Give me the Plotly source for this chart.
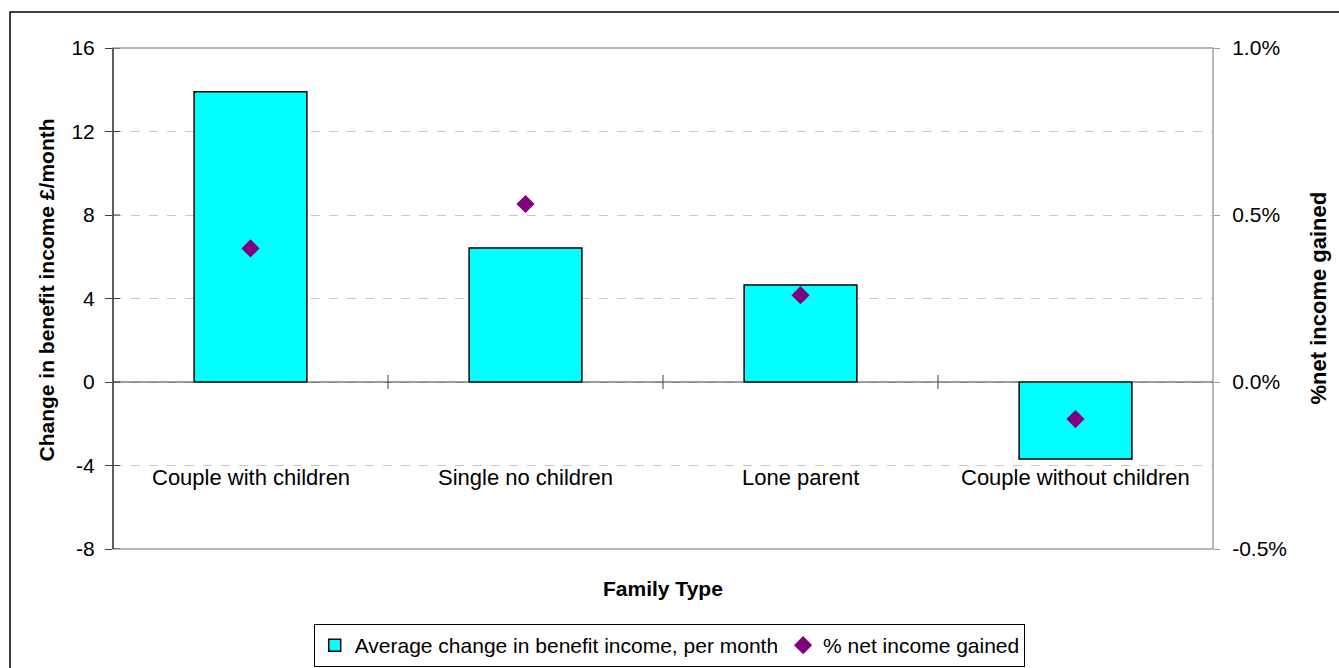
import plotly.graph_objects as go

# Family types and the two measured series
family_types = ["Couple with children", "Single no children", "Lone parent", "Couple without children"]
avg_change_per_month = [13.9, 6.42, 4.65, -3.69]      # £ per month (left axis)
pct_net_income_gained = [0.0040, 0.00533, 0.0026, -0.00111]  # share of net income (right axis)

left_ticks = [-8, -4, 0, 4, 8, 12, 16]
left_tick_text = ["-8", "-4", "0", "4", "8", "12", "16"]
right_ticks = [-0.005, 0.0, 0.005, 0.010]
right_tick_text = ["-0.5%", "0.0%", "0.5%", "1.0%"]

FONT = "Liberation Sans, Arial, sans-serif"
x_idx = list(range(len(family_types)))

fig = go.Figure()
fig.add_trace(go.Bar(
    x=x_idx, y=avg_change_per_month,
    name="Average change in benefit income, per month",
    marker=dict(color="#00FFFF", line=dict(color="#000000", width=1.5)),
    width=0.41, yaxis="y",
))
fig.add_trace(go.Scatter(
    x=x_idx, y=pct_net_income_gained,
    name="% net income gained", mode="markers",
    marker=dict(symbol="diamond", size=14, color="#800080"),
    yaxis="y2",
))

shapes = [
    # outer chart border
    dict(type="rect", xref="paper", yref="paper", x0=-0.0936, x1=1.2, y0=-0.4, y1=1.0719,
         line=dict(color="#000000", width=1.5), layer="below"),
    # plot area frame
    dict(type="rect", xref="paper", yref="paper", x0=0, x1=1, y0=0, y1=1,
         line=dict(color="#a0a0a0", width=1.5), layer="above"),
    # category axis at zero
    dict(type="line", xref="paper", yref="y", x0=0, x1=1, y0=0, y1=0,
         line=dict(color="#404040", width=1.2), layer="above"),
    # left value axis line
    dict(type="line", xref="paper", yref="paper", x0=0, x1=0, y0=0, y1=1,
         line=dict(color="#404040", width=1.5), layer="above"),
]
# tick marks between categories on the zero axis
for b in [0.5, 1.5, 2.5]:
    shapes.append(dict(type="line", xref="x", yref="y", x0=b, x1=b,
                       ysizemode="pixel", yanchor=0, y0=-7, y1=7,
                       line=dict(color="#404040", width=1)))
# inner half of the crossing ticks on the left axis
for t in left_ticks:
    shapes.append(dict(type="line", yref="y", xref="paper", xsizemode="pixel", xanchor=0,
                       x0=0, x1=7, y0=t, y1=t, line=dict(color="#404040", width=1)))

annotations = []
for i, name in enumerate(family_types):
    annotations.append(dict(x=i, y=-4, xref="x", yref="y", text=name, showarrow=False,
                            yanchor="middle", yshift=-12,
                            font=dict(size=22, color="#000000", family=FONT)))
annotations += [
    dict(x=0.5, y=0, xref="paper", yref="paper", text="<b>Family Type</b>", showarrow=False,
         yanchor="middle", yshift=-39, font=dict(size=21, color="#000000", family=FONT)),
    dict(x=0, y=0.5, xref="paper", yref="paper", text="<b>Change in benefit income £/month</b>",
         showarrow=False, textangle=-90, xanchor="center", xshift=-67, yshift=8,
         font=dict(size=21, color="#000000", family=FONT)),
    dict(x=1, y=0.5, xref="paper", yref="paper", text="<b>%net income gained</b>",
         showarrow=False, textangle=-90, xanchor="center", xshift=105, yshift=0,
         font=dict(size=22, color="#000000", family=FONT)),
]

fig.update_layout(
    width=1339, height=668,
    margin=dict(l=113, r=126, t=48, b=119),
    paper_bgcolor="#ffffff", plot_bgcolor="#ffffff",
    font=dict(family=FONT, size=21, color="#000000"),
    showlegend=True,
    legend=dict(orientation="h", x=0.5, xanchor="center", xref="container",
                y=0.034, yanchor="middle", yref="container",
                bordercolor="#000000", borderwidth=1.2, bgcolor="#ffffff",
                font=dict(size=21, family=FONT), itemwidth=30, tracegroupgap=0),
    xaxis=dict(range=[-0.5, 3.5], showticklabels=False, showline=False, showgrid=False,
               zeroline=False, ticks=""),
    yaxis=dict(range=[-8, 16], tickvals=left_ticks, ticktext=left_tick_text,
               showgrid=True, gridcolor="#c8c8c8",
               griddash="dash", gridwidth=1.2, zeroline=False, showline=False,
               ticks="outside", ticklen=7, tickcolor="#404040",
               ticklabelstandoff=6, tickfont=dict(size=21, family=FONT)),
    yaxis2=dict(range=[-0.005, 0.010], overlaying="y", side="right", tickvals=right_ticks,
                ticktext=right_tick_text, showgrid=False, zeroline=False, showline=False,
                ticks="outside", ticklen=6, tickcolor="#a0a0a0",
                ticklabelstandoff=8, tickfont=dict(size=21, family=FONT)),
    shapes=shapes, annotations=annotations,
    bargap=0.59,
)

fig.write_html("out.html")
